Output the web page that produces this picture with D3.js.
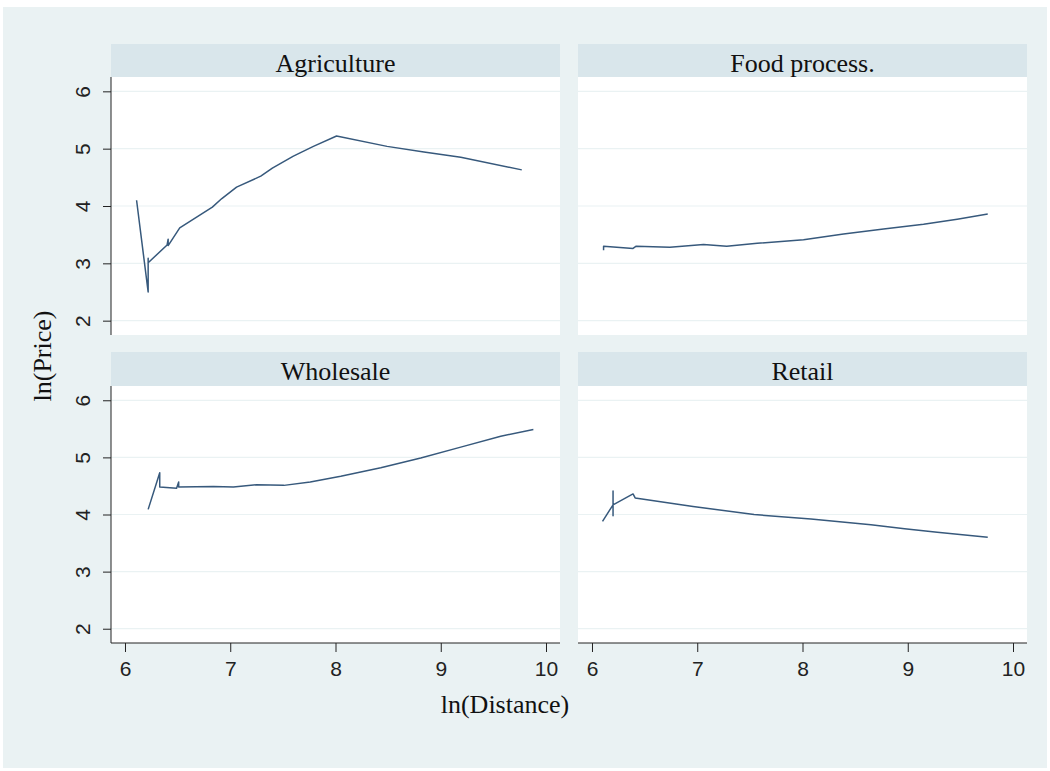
<!DOCTYPE html>
<html>
<head>
<meta charset="utf-8">
<script src="https://cdn.jsdelivr.net/npm/d3@7"></script>
<style>
  body { margin: 0; background: #fff; }
  svg { display: block; }
</style>
</head>
<body>
<div id="chart"></div>
<script>
// values
var panelNames = ["Agriculture", "Food process.", "Wholesale", "Retail"];
var xTicks = [6, 7, 8, 9, 10];
var yTicks = [2, 3, 4, 5, 6];

var agriX = [6.11, 6.22, 6.22, 6.22, 6.40, 6.41, 6.41, 6.52, 6.83, 6.92, 7.06, 7.29, 7.40, 7.60, 7.79, 8.01, 8.49, 8.84, 9.19, 9.77];
var agriY = [4.10, 2.50, 3.09, 3.01, 3.32, 3.42, 3.31, 3.62, 3.98, 4.13, 4.33, 4.52, 4.66, 4.87, 5.04, 5.22, 5.04, 4.94, 4.85, 4.63];

var foodX = [6.11, 6.11, 6.39, 6.42, 6.74, 7.06, 7.28, 7.57, 8.01, 8.39, 8.77, 9.15, 9.47, 9.76];
var foodY = [3.23, 3.30, 3.26, 3.30, 3.28, 3.33, 3.30, 3.35, 3.41, 3.51, 3.60, 3.68, 3.77, 3.86];

var wholeX = [6.22, 6.33, 6.33, 6.49, 6.51, 6.51, 6.84, 7.03, 7.25, 7.51, 7.76, 8.05, 8.43, 8.81, 9.19, 9.57, 9.88];
var wholeY = [4.09, 4.73, 4.48, 4.46, 4.57, 4.48, 4.49, 4.48, 4.52, 4.51, 4.57, 4.67, 4.82, 4.99, 5.18, 5.37, 5.49];

var retailX = [6.10, 6.20, 6.20, 6.20, 6.20, 6.39, 6.41, 6.96, 7.54, 8.08, 8.65, 8.97, 9.28, 9.76];
var retailY = [3.88, 4.17, 4.41, 3.98, 4.17, 4.36, 4.29, 4.14, 4.00, 3.92, 3.82, 3.75, 3.69, 3.60];

var seriesX = [agriX, foodX, wholeX, retailX];
var seriesY = [agriY, foodY, wholeY, retailY];

var width = 1050, height = 771;
var serif = "'Liberation Serif', 'Times New Roman', serif";
var sans = "'Liberation Sans', Arial, sans-serif";

// panel geometry: columns and rows
var cols = [[111, 560], [578, 1027]];
var rows = [
  { head: 44, top: 77, bottom: 335 },
  { head: 352, top: 386, bottom: 643 }
];

var svg = d3.select("#chart")
  .append("svg")
    .attr("width", width)
    .attr("height", height);

// outer background
svg.append("rect")
  .attr("x", 3).attr("y", 7)
  .attr("width", 1044).attr("height", 761)
  .attr("fill", "#eaf2f3");

panelNames.forEach(function(name, i) {
  var c = cols[i % 2], r = rows[Math.floor(i / 2)];

  var x = d3.scaleLinear().domain([5.867, 10.133]).range([c[0], c[1]]);
  var y = d3.scaleLinear().domain([1.75, 6.25]).range([r.bottom, r.top]);

  // header strip
  svg.append("rect")
    .attr("x", c[0]).attr("y", r.head)
    .attr("width", c[1] - c[0]).attr("height", r.top - r.head)
    .attr("fill", "#d9e6eb");

  svg.append("text")
    .attr("x", (c[0] + c[1]) / 2)
    .attr("y", r.head + 28)
    .attr("text-anchor", "middle")
    .style("font-family", serif)
    .style("font-size", "26px")
    .attr("fill", "#111")
    .text(name);

  // plot region
  svg.append("rect")
    .attr("x", c[0]).attr("y", r.top)
    .attr("width", c[1] - c[0]).attr("height", r.bottom - r.top)
    .attr("fill", "#fff");

  // gridlines
  svg.append("g")
    .selectAll("line")
    .data(yTicks)
    .enter()
    .append("line")
      .attr("x1", c[0]).attr("x2", c[1])
      .attr("y1", function(d) { return y(d); })
      .attr("y2", function(d) { return y(d); })
      .attr("stroke", "#eaf2f3")
      .attr("stroke-width", 1.2);

  // y axis only on left column
  if (i % 2 === 0) {
    var gy = svg.append("g")
      .attr("transform", "translate(" + c[0] + ",0)")
      .call(d3.axisLeft(y).tickValues(yTicks).tickSize(8).tickSizeOuter(0).tickFormat(d3.format("d")));
    gy.select(".domain").attr("stroke", "#222").attr("d", "M0," + r.top + "V" + r.bottom);
    gy.selectAll(".tick line").attr("stroke", "#222");
    gy.selectAll(".tick text")
      .attr("transform", "rotate(-90)")
      .attr("x", 0).attr("y", -21).attr("dy", 0)
      .style("text-anchor", "middle")
      .style("font-family", sans)
      .style("font-size", "21px")
      .attr("fill", "#222");
  }

  // x axis only on bottom row
  if (i >= 2) {
    var gx = svg.append("g")
      .attr("transform", "translate(0," + r.bottom + ")")
      .call(d3.axisBottom(x).tickValues(xTicks).tickSize(9).tickSizeOuter(0).tickFormat(d3.format("d")));
    gx.select(".domain").attr("stroke", "#222").attr("d", "M" + c[0] + ",0H" + c[1]);
    gx.selectAll(".tick line").attr("stroke", "#222");
    gx.selectAll(".tick text")
      .attr("y", 33).attr("dy", 0)
      .style("font-family", sans)
      .style("font-size", "21px")
      .attr("fill", "#222");
  }

  var pts = seriesX[i].map(function(v, k) { return [v, seriesY[i][k]]; });
  var line = d3.line()
    .x(function(d) { return x(d[0]); })
    .y(function(d) { return y(d[1]); });

  svg.append("path")
    .datum(pts)
    .attr("d", line)
    .attr("fill", "none")
    .attr("stroke", "#37597c")
    .attr("stroke-width", 1.5)
    .attr("stroke-linejoin", "round");
});

// axis titles
svg.append("text")
  .attr("transform", "translate(51,356) rotate(-90)")
  .attr("text-anchor", "middle")
  .style("font-family", serif)
  .style("font-size", "26px")
  .attr("fill", "#111")
  .text("ln(Price)");

svg.append("text")
  .attr("x", 505).attr("y", 713)
  .attr("text-anchor", "middle")
  .style("font-family", serif)
  .style("font-size", "26px")
  .attr("fill", "#111")
  .text("ln(Distance)");
</script>
</body>
</html>
